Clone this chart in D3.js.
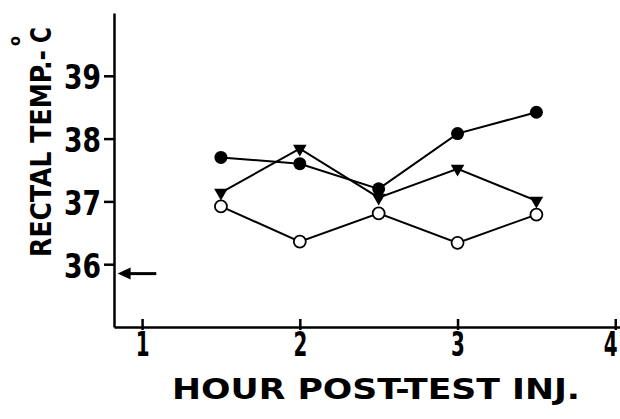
<!DOCTYPE html>
<html>
<head>
<meta charset="utf-8">
<script src="https://cdn.jsdelivr.net/npm/d3@7"></script>
<style>
	body{margin:0;background:#fff;}
	svg{display:block;}
	.axis path,.axis line{stroke:#000;stroke-width:2.5;}
	.axis text{font-family:"DejaVu Sans Condensed","Liberation Sans Narrow","Liberation Sans",sans-serif;font-stretch:condensed;font-weight:bold;font-size:34px;fill:#000;}
	.title{font-family:"DejaVu Sans Condensed","Liberation Sans Narrow",sans-serif;font-stretch:condensed;font-weight:bold;font-size:28px;fill:#000;}
</style>
</head>
<body>
<script>
	//data
	const hours = [1.5, 2, 2.5, 3, 3.5];
	const filledCircle = [37.70, 37.60, 37.20, 38.08, 38.42];
	const triangle = [37.14, 37.84, 37.06, 37.52, 37.01];
	const openCircle = [36.92, 36.36, 36.81, 36.34, 36.79];
	const xTicks = [1, 2, 3, 4];
	const yTicks = [36, 37, 38, 39];
	const arrowLevel = 35.85;	// baseline arrow on the y axis
	const arrowHours = [1.09, 0.845];

	//Setup things
	const W = 620, H = 419;
	var svg = d3.select('body').append('svg')
		.attr('width', W)
		.attr('height', H);

	var x = d3.scaleLinear().domain([0.822, 4.03]).range([114, 620]);
	var y = d3.scaleLinear().domain([35, 40]).range([327, 13]);

	//axis x
	var gx = svg.append('g')
		.attr('class', 'axis')
		.attr('transform', 'translate(0,' + y(35) + ')')
		.call(d3.axisBottom(x).tickValues(xTicks).tickSizeInner(-8).tickSizeOuter(0).tickPadding(5).tickFormat(d3.format('d')));
	gx.selectAll('.tick line').attr('y1', 3);
	// narrow the digits like the original lettering
	gx.selectAll('.tick text')
		.attr('transform', 'scale(0.65,1)')
		.attr('dx', function(d) { return d === 4 ? -8 : 0; });

	//axis y
	svg.append('g')
		.attr('class', 'axis')
		.attr('transform', 'translate(' + x(0.822) + ',0)')
		.call(d3.axisLeft(y).tickValues(yTicks).tickSize(10).tickSizeOuter(0).tickPadding(3).tickFormat(d3.format('d')))
		.selectAll('text')
		.attr('dy', '0.38em')
		.attr('textLength', 37)
		.attr('lengthAdjust', 'spacingAndGlyphs');

	//titles
	svg.append('text')
		.attr('class', 'title')
		.attr('x', 172)
		.attr('y', 399)
		.attr('textLength', 408)
		.attr('lengthAdjust', 'spacingAndGlyphs')
		.text('HOUR POST-TEST INJ.');

	var yt = svg.append('text')
		.attr('class', 'title')
		.attr('transform', 'translate(51,257) rotate(-90)');
	yt.append('tspan')
		.attr('textLength', 207)
		.attr('lengthAdjust', 'spacingAndGlyphs')
		.text('RECTAL TEMP.-');
	yt.append('tspan')
		.attr('x', 211).attr('y', -31)
		.style('font-size', '16px')
		.text('o');
	yt.append('tspan')
		.attr('x', 214).attr('y', 0)
		.attr('textLength', 16)
		.attr('lengthAdjust', 'spacingAndGlyphs')
		.text('C');

	//arrow
	var ay = y(arrowLevel), ax0 = x(arrowHours[0]), ax1 = x(arrowHours[1]);
	svg.append('line')
		.attr('x1', ax0).attr('x2', ax1 + 8)
		.attr('y1', ay).attr('y2', ay)
		.attr('stroke', '#000').attr('stroke-width', 3);
	svg.append('path')
		.attr('d', 'M' + ax1 + ',' + ay + 'L' + (ax1 + 13) + ',' + (ay - 6) + 'L' + (ax1 + 13) + ',' + (ay + 6) + 'Z')
		.attr('fill', '#000');

	//lines
	var line = d3.line()
		.x(function(d, i) { return x(hours[i]); })
		.y(function(d) { return y(d); });

	[filledCircle, triangle, openCircle].forEach(function(s) {
		svg.append('path')
			.datum(s)
			.attr('fill', 'none')
			.attr('stroke', '#000')
			.attr('stroke-width', 2)
			.attr('d', line);
	});

	//markers
	svg.selectAll('.tri')
		.data(triangle)
		.enter().append('path')
		.attr('class', 'tri')
		.attr('d', d3.symbol(d3.symbolTriangle, 80))
		.attr('transform', function(d, i) { return 'translate(' + x(hours[i]) + ',' + y(d) + ') rotate(180)'; })
		.attr('fill', '#000');

	svg.selectAll('.dot')
		.data(filledCircle)
		.enter().append('circle')
		.attr('class', 'dot')
		.attr('cx', function(d, i) { return x(hours[i]); })
		.attr('cy', function(d) { return y(d); })
		.attr('r', 6.5)
		.attr('fill', '#000');

	svg.selectAll('.open')
		.data(openCircle)
		.enter().append('circle')
		.attr('class', 'open')
		.attr('cx', function(d, i) { return x(hours[i]); })
		.attr('cy', function(d) { return y(d); })
		.attr('r', 6)
		.attr('fill', '#fff')
		.attr('stroke', '#000')
		.attr('stroke-width', 1.8);
</script>
</body>
</html>
